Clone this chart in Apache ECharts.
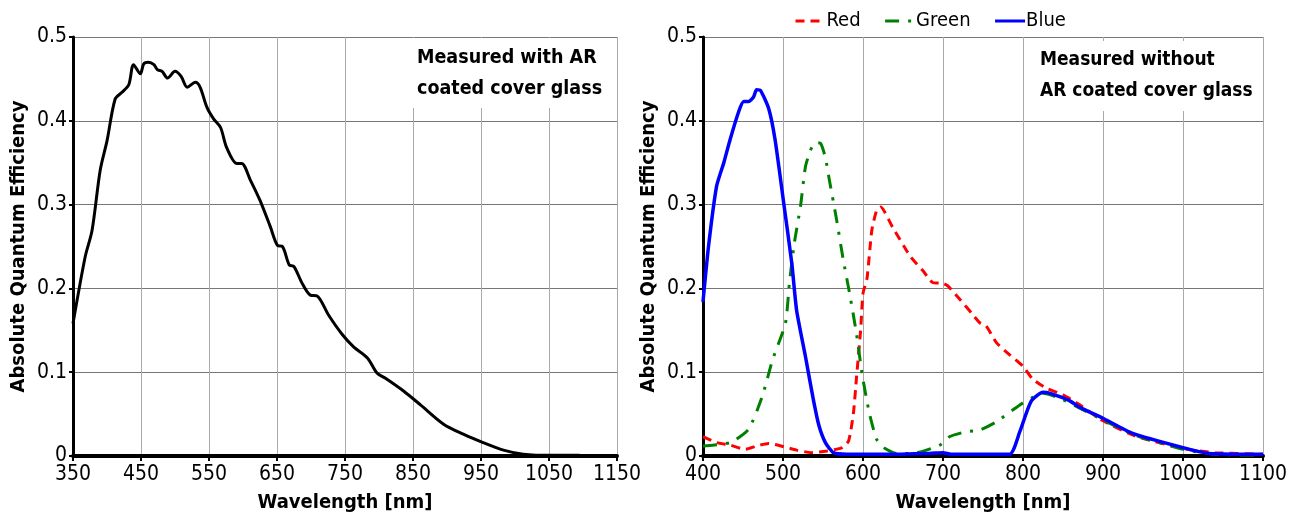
<!DOCTYPE html>
<html><head><meta charset="utf-8">
<script src="https://cdn.jsdelivr.net/npm/echarts@6/dist/echarts.min.js"></script>
<style>html,body{margin:0;padding:0;background:#fff}#c{width:1298px;height:514px}</style>
</head><body><div id="c"></div>
<script>
// Left chart: measured with AR coated cover glass
const arWl = [350,368,378,390,400,412,422,432,439,449,454,461,469,474,481,489,500,509,518,530,537,547,557,567,576,591,598,611,625,640,651,658,668,675,687,699,709,726,746,763,783,797,809,837,861,895,924,953,983,1012,1031,1095];
const arQE = [0.158,0.238,0.269,0.341,0.376,0.426,0.434,0.443,0.467,0.456,0.468,0.470,0.467,0.461,0.459,0.451,0.459,0.453,0.440,0.446,0.440,0.416,0.402,0.392,0.368,0.349,0.349,0.329,0.305,0.274,0.251,0.250,0.228,0.226,0.206,0.192,0.191,0.168,0.145,0.130,0.117,0.099,0.093,0.077,0.061,0.038,0.026,0.016,0.007,0.002,0.001,0.001];

// Right chart: measured without AR coated cover glass
const redWl = [400,417,434,453,467,482,501,517,536,555,574,582,588,592,597,600,605,611,617,622,637,652,660,675,687,700,706,721,737,746,754,767,783,800,812,829,850,871,900,940,1000,1040,1100];
const redQE = [0.023,0.016,0.013,0.008,0.012,0.015,0.011,0.007,0.004,0.006,0.010,0.018,0.051,0.095,0.150,0.194,0.212,0.269,0.293,0.297,0.273,0.249,0.237,0.221,0.207,0.206,0.203,0.187,0.169,0.159,0.155,0.135,0.121,0.107,0.092,0.081,0.073,0.061,0.042,0.024,0.009,0.004,0.002];

const greenWl = [400,434,457,474,487,503,508,514,522,528,534,540,547,553,558,567,575,584,592,599,608,617,626,642,662,696,708,729,746,767,796,812,825,846,871,900,940,1000,1040,1100];
const greenQE = [0.012,0.016,0.032,0.071,0.115,0.158,0.206,0.253,0.299,0.345,0.364,0.374,0.373,0.356,0.329,0.282,0.236,0.190,0.145,0.097,0.051,0.020,0.010,0.003,0.003,0.013,0.023,0.029,0.031,0.041,0.061,0.070,0.075,0.069,0.057,0.043,0.025,0.008,0.002,0.001];

const blueWl = [400,407,417,426,434,445,451,457,463,467,472,482,490,501,511,517,528,538,545,553,563,580,621,683,700,710,783,796,810,825,833,858,871,900,937,1000,1033,1100];
const blueQE = [0.184,0.251,0.322,0.350,0.378,0.412,0.423,0.423,0.428,0.437,0.436,0.415,0.378,0.301,0.230,0.174,0.119,0.067,0.036,0.016,0.004,0.002,0.002,0.003,0.004,0.002,0.002,0.029,0.065,0.076,0.075,0.066,0.058,0.045,0.027,0.010,0.003,0.002];

const yTicks = [0, 0.1, 0.2, 0.3, 0.4, 0.5];
const leftXTicks = [350, 450, 550, 650, 750, 850, 950, 1050, 1150];
const rightXTicks = [400, 500, 600, 700, 800, 900, 1000, 1100];

const zip = (a, b) => a.map((v, i) => [v, b[i]]);
const FONT = '"DejaVu Sans Condensed", "Liberation Sans Narrow", sans-serif';

function xAxisCfg(idx, ticks) {
  return {
    type: 'value', gridIndex: idx, min: ticks[0], max: ticks[ticks.length - 1], interval: ticks[1] - ticks[0],
    name: 'Wavelength [nm]', nameLocation: 'middle', nameGap: 37,
    nameTextStyle: { fontFamily: FONT, fontWeight: 'bold', fontSize: 20, color: '#000' },
    axisLine: { onZero: false, lineStyle: { color: '#000', width: 4 } },
    axisTick: { show: true, length: 5, lineStyle: { color: '#000', width: 2 } },
    axisLabel: { fontFamily: FONT, fontSize: 21, color: '#000', margin: 8, formatter: v => String(v) },
    splitLine: { show: true, lineStyle: { color: '#aaa', width: 1 } }
  };
}
function yAxisCfg(idx) {
  return {
    type: 'value', gridIndex: idx, min: yTicks[0], max: yTicks[yTicks.length - 1], interval: 0.1,
    name: 'Absolute Quantum Efficiency', nameLocation: 'middle', nameGap: 44,
    nameTextStyle: { fontFamily: FONT, fontWeight: 'bold', fontSize: 20, color: '#000' },
    axisLine: { show: true, lineStyle: { color: '#000', width: 3 } },
    axisTick: { show: true, length: 4, lineStyle: { color: '#000', width: 2 } },
    axisLabel: { fontFamily: FONT, fontSize: 21, color: '#000', margin: 6, formatter: v => String(v) },
    splitLine: { show: true, lineStyle: { color: '#777', width: 1 } }
  };
}

const chart = echarts.init(document.getElementById('c'), null, { renderer: 'canvas' });
chart.setOption({
  backgroundColor: '#fff',
  animation: false,
  grid: [
    { left: 73, right: 681, top: 37, bottom: 58, containLabel: false, outerBoundsMode: 'none' },
    { left: 703, right: 35, top: 37, bottom: 58, containLabel: false, outerBoundsMode: 'none' }
  ],
  title: [
    { text: 'Measured with AR\ncoated cover glass', left: 411, top: 38,
      backgroundColor: '#fff', padding: [4, 6, 4, 6],
      textStyle: { fontFamily: FONT, fontWeight: 'bold', fontSize: 19.5, lineHeight: 31, color: '#000' } },
    { text: 'Measured without\nAR coated cover glass', left: 1034, top: 41,
      backgroundColor: '#fff', padding: [4, 6, 4, 6],
      textStyle: { fontFamily: FONT, fontWeight: 'bold', fontSize: 19, lineHeight: 31, color: '#000' } }
  ],
  legend: {
    data: ['Red', 'Green', 'Blue'], left: 789, top: 6, itemWidth: 30, itemHeight: 3, itemGap: 23,
    itemStyle: { opacity: 0 },
    lineStyle: { width: 3 },
    textStyle: { fontFamily: FONT, fontSize: 20, color: '#000', padding: [0, 0, 0, -4] }
  },
  xAxis: [xAxisCfg(0, leftXTicks), xAxisCfg(1, rightXTicks)],
  yAxis: [yAxisCfg(0), yAxisCfg(1)],
  series: [
    { name: 'AR', type: 'line', xAxisIndex: 0, yAxisIndex: 0, data: zip(arWl, arQE), symbol: 'none', smooth: 0.3,
      lineStyle: { color: '#000', width: 3 }, z: 5 },
    { name: 'Red', type: 'line', xAxisIndex: 1, yAxisIndex: 1, data: zip(redWl, redQE), symbol: 'none', smooth: 0.2,
      itemStyle: { color: '#ff0000' }, lineStyle: { color: '#ff0000', width: 3, type: [9, 6] }, z: 4 },
    { name: 'Green', type: 'line', xAxisIndex: 1, yAxisIndex: 1, data: zip(greenWl, greenQE), symbol: 'none', smooth: 0.2,
      itemStyle: { color: '#008000' }, lineStyle: { color: '#008000', width: 3, type: [14, 9, 3, 9] }, z: 5 },
    { name: 'Blue', type: 'line', xAxisIndex: 1, yAxisIndex: 1, data: zip(blueWl, blueQE), symbol: 'none', smooth: 0.2,
      itemStyle: { color: '#0000ff' }, lineStyle: { color: '#0000ff', width: 3.5 }, z: 6 }
  ]
});
</script></body></html>
